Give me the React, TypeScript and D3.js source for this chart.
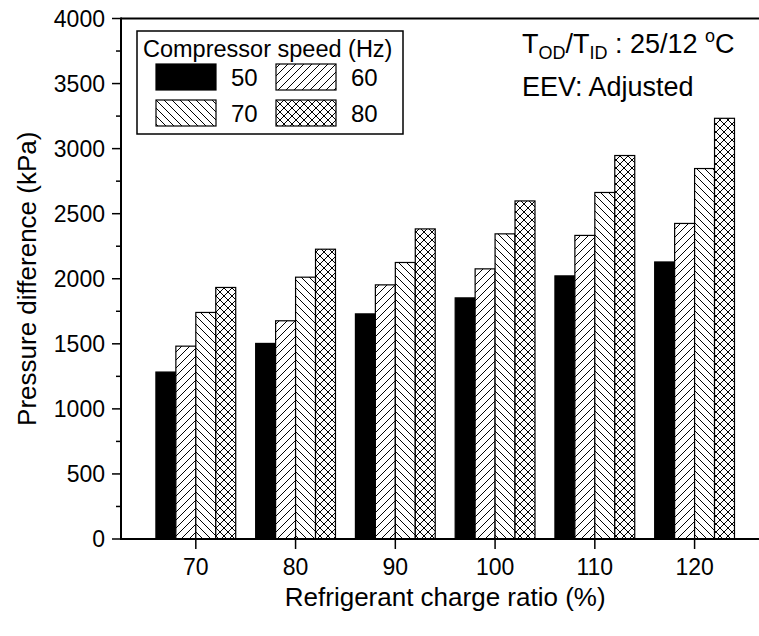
import React from "react";
import * as d3 from "d3";

const categories = [70, 80, 90, 100, 110, 120];
const speeds = ["50", "60", "70", "80"];
const s50 = [1283, 1503, 1730, 1853, 2022, 2129];
const s60 = [1482, 1677, 1953, 2076, 2333, 2425];
const s70 = [1741, 2012, 2125, 2345, 2663, 2847];
const s80 = [1933, 2227, 2383, 2598, 2947, 3233];
const seriesValues = [s50, s60, s70, s80];
const yMajorTicks = [0, 500, 1000, 1500, 2000, 2500, 3000, 3500, 4000];
const yMinorTicks = [250, 750, 1250, 1750, 2250, 2750, 3250, 3750];
const xTitle = "Refrigerant charge ratio (%)";
const yTitle = "Pressure difference (kPa)";
const legendTitle = "Compressor speed (Hz)";

const W = 759;
const H = 636;
const FONT = "'Liberation Sans', Arial, Helvetica, sans-serif";

const fills = ["#000", "url(#hatchF)", "url(#hatchB)", "url(#hatchX)"];

export default function App() {
  const x = d3.scaleLinear().domain([62.5, 127.5]).range([121, 769.4]);
  const y = d3.scaleLinear().domain([0, 4000]).range([539, 18.5]);
  const inner = d3.scaleBand<string>().domain(speeds).range([-4, 4]).padding(0);

  const left = x(62.5);
  const bottom = y(0);
  const top = y(4000);

  return (
    <div style={{ position: "fixed", left: 0, top: 0, width: W, height: H, background: "#fff" }}>
      <svg width={W} height={H} style={{ display: "block", fontFamily: FONT }}>
        <defs>
          <pattern id="hatchF" patternUnits="userSpaceOnUse" width={8} height={8}>
            <rect width={8} height={8} fill="#fff" />
            <path d="M-2,2 L2,-2 M0,8 L8,0 M6,10 L10,6" stroke="#000" strokeWidth={1} />
          </pattern>
          <pattern id="hatchB" patternUnits="userSpaceOnUse" width={8} height={8}>
            <rect width={8} height={8} fill="#fff" />
            <path d="M-2,6 L2,10 M0,0 L8,8 M6,-2 L10,2" stroke="#000" strokeWidth={1} />
          </pattern>
          <pattern id="hatchX" patternUnits="userSpaceOnUse" width={8} height={8}>
            <rect width={8} height={8} fill="#fff" />
            <path d="M-2,2 L2,-2 M0,8 L8,0 M6,10 L10,6 M-2,6 L2,10 M0,0 L8,8 M6,-2 L10,2" stroke="#000" strokeWidth={1} />
          </pattern>
        </defs>

        {/* bars */}
        {categories.map((c, ci) =>
          speeds.map((s, si) => {
            const v = seriesValues[si][ci];
            const x0 = x(c + (inner(s) as number));
            const x1 = x(c + (inner(s) as number) + inner.bandwidth());
            return (
              <rect
                key={`${c}-${s}`}
                x={x0}
                y={y(v)}
                width={x1 - x0}
                height={bottom - y(v)}
                fill={fills[si]}
                stroke="#000"
                strokeWidth={1.2}
              />
            );
          })
        )}

        {/* frame */}
        <line x1={left} x2={W + 20} y1={top} y2={top} stroke="#000" strokeWidth={2} />
        <line x1={x(127.5)} x2={x(127.5)} y1={top} y2={bottom} stroke="#000" strokeWidth={2} />
        <line x1={left} x2={left} y1={top - 1} y2={bottom + 1} stroke="#000" strokeWidth={2} />
        <line x1={left - 1} x2={W + 20} y1={bottom} y2={bottom} stroke="#000" strokeWidth={2} />

        {/* y ticks */}
        {yMajorTicks.map((t) => (
          <g key={`ym${t}`}>
            <line x1={left - 9} x2={left} y1={y(t)} y2={y(t)} stroke="#000" strokeWidth={1.5} />
            <text x={left - 16} y={y(t)} dy="0.36em" textAnchor="end" fontSize={23}>
              {t}
            </text>
          </g>
        ))}
        {yMinorTicks.map((t) => (
          <line key={`yn${t}`} x1={left - 5} x2={left} y1={y(t)} y2={y(t)} stroke="#000" strokeWidth={1.5} />
        ))}

        {/* x ticks */}
        {categories.map((c) => (
          <g key={`xt${c}`}>
            <line x1={x(c)} x2={x(c)} y1={bottom} y2={bottom + 10} stroke="#000" strokeWidth={1.5} />
            <text x={x(c)} y={575} textAnchor="middle" fontSize={23}>
              {c}
            </text>
          </g>
        ))}

        {/* axis titles */}
        <text x={(left + x(127.5)) / 2} y={606} textAnchor="middle" fontSize={26}>
          {xTitle}
        </text>
        <text
          transform={`translate(36,${(top + bottom) / 2}) rotate(-90)`}
          textAnchor="middle"
          fontSize={26}
        >
          {yTitle}
        </text>

        {/* legend */}
        <rect x={137} y={31} width={266} height={103} fill="#fff" stroke="#000" strokeWidth={1.5} />
        <text x={143} y={57} fontSize={23.5}>
          {legendTitle}
        </text>
        {speeds.map((s, si) => {
          const col = si % 2;
          const row = Math.floor(si / 2);
          const sx = col === 0 ? 156 : 276;
          const sy = row === 0 ? 64 : 100;
          return (
            <g key={`lg${s}`}>
              <rect x={sx} y={sy} width={60} height={26} fill={fills[si]} stroke="#000" strokeWidth={1.2} />
              <text x={sx + 75} y={sy + 22} fontSize={24}>
                {s}
              </text>
            </g>
          );
        })}

        {/* annotations */}
        <text x={522} y={53} fontSize={27}>
          T<tspan fontSize={18} dy={6}>OD</tspan>
          <tspan dy={-6}>/T</tspan>
          <tspan fontSize={18} dy={6}>ID</tspan>
          <tspan dy={-6}> : 25/12 </tspan>
          <tspan fontSize={18} dy={-11}>o</tspan>
          <tspan dy={11}>C</tspan>
        </text>
        <text x={522} y={96} fontSize={27}>
          EEV: Adjusted
        </text>
      </svg>
    </div>
  );
}
